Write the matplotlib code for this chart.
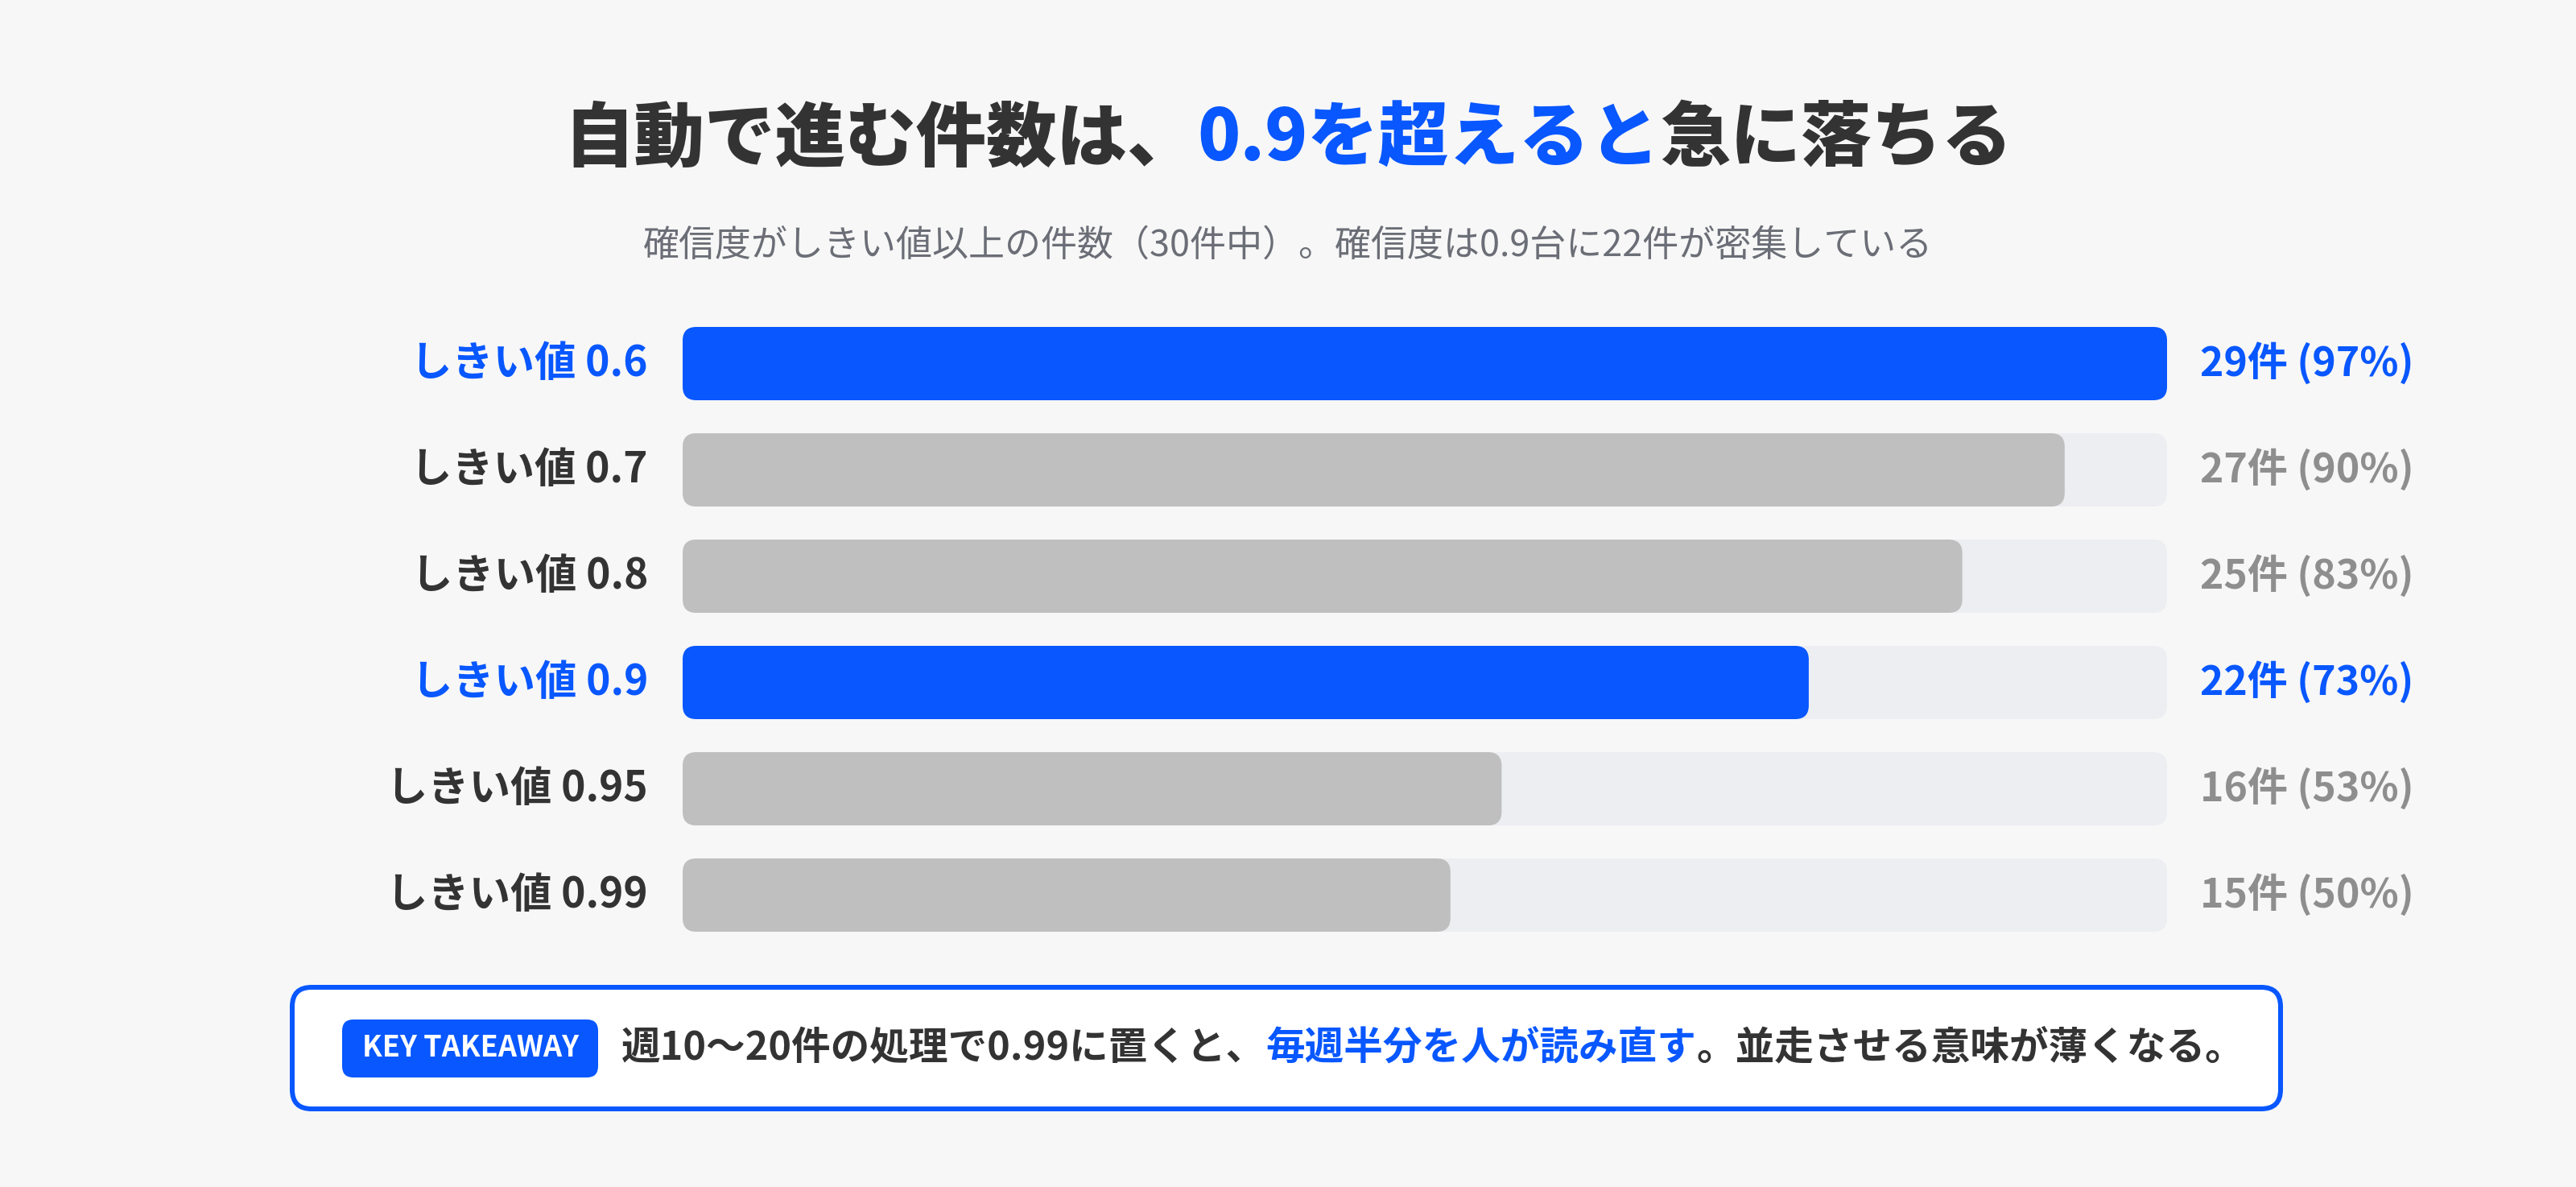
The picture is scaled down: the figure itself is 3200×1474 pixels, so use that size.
import matplotlib
matplotlib.use("Agg")
import matplotlib.pyplot as plt
from matplotlib.patches import FancyBboxPatch

plt.rcParams["font.family"] = ["Noto Sans CJK JP", "DejaVu Sans"]

# data
thresholds = ["0.6", "0.7", "0.8", "0.9", "0.95", "0.99"]
counts = [29, 27, 25, 22, 16, 15]
total_items = 30
highlight = [True, False, False, True, False, False]

title_runs = [("自動で進む件数は、", "dark"), ("0.9を超えると", "blue"), ("急に落ちる", "dark")]
subtitle = "確信度がしきい値以上の件数（30件中）。確信度は0.9台に22件が密集している"
takeaway_runs = [("週10〜20件の処理で0.99に置くと、", "dark"),
                 ("毎週半分を人が読み直す", "blue"),
                 ("。並走させる意味が薄くなる。", "dark")]

BLUE = "#0857FF"
DARK = "#333333"
GREY_BAR = "#BFBFBF"
TRACK = "#EDEEF2"
GREY_TXT = "#8E8E8E"
SUB_TXT = "#6B6E76"
BG = "#F7F7F7"
palette = {"blue": BLUE, "dark": DARK}

W, H, DPI = 3200, 1474, 200
fig = plt.figure(figsize=(W / DPI, H / DPI), dpi=DPI, facecolor=BG)

# overlay in pixel coordinates for titles and the takeaway box
ov = fig.add_axes([0, 0, 1, 1])
ov.set_xlim(0, W)
ov.set_ylim(H, 0)
ov.axis("off")
ov.set_facecolor(BG)

renderer = fig.canvas.get_renderer()


def draw_runs(runs, x, y, size, ha="left", weight="bold"):
    texts = []
    for s, c in runs:
        t = ov.text(0, y, s, color=palette[c], fontsize=size, fontweight=weight,
                    va="center", ha="left")
        texts.append(t)
    widths = [t.get_window_extent(renderer).width for t in texts]
    start = x - sum(widths) / 2 if ha == "center" else x
    for t, w in zip(texts, widths):
        t.set_x(start)
        start += w


draw_runs(title_runs, 1600, 173, 31.5, ha="center", weight="heavy")
ov.text(1600, 305, subtitle, color=SUB_TXT, fontsize=16.2, ha="center", va="center")

# bars
n = len(counts)
vmax = max(counts)
pitch = 132
top_px = 451.5 - pitch / 2
bot_px = top_px + pitch * n
left_px, right_px = 848, 2692
ax = fig.add_axes([left_px / W, 1 - bot_px / H, (right_px - left_px) / W, (bot_px - top_px) / H])
ax.set_xlim(0, vmax)
ax.set_ylim(n - 0.5, -0.5)
ax.axis("off")
ax.patch.set_alpha(0)

px_x = (right_px - left_px) / vmax
px_y = pitch
bar_h = 91 / pitch
radius_px = 17
rs = radius_px / px_x
aspect = px_x / px_y

for i, (lab, c, hl) in enumerate(zip(thresholds, counts, highlight)):
    track = FancyBboxPatch((0, i - bar_h / 2), vmax, bar_h,
                           boxstyle=f"round,pad=0,rounding_size={rs}",
                           mutation_aspect=aspect, fc=TRACK, ec="none")
    ax.add_patch(track)
    bar = FancyBboxPatch((0, i - bar_h / 2), c, bar_h,
                         boxstyle=f"round,pad=0,rounding_size={rs}",
                         mutation_aspect=aspect, fc=BLUE if hl else GREY_BAR, ec="none")
    ax.add_patch(bar)
    ax.annotate(f"しきい値 {lab}", xy=(0, i), xytext=(-43 * 72 / DPI, 0),
                textcoords="offset points", ha="right", va="center",
                fontsize=18.5, fontweight="bold", color=BLUE if hl else DARK)
    pct = round(c / total_items * 100)
    ax.annotate(f"{c}件 ({pct}%)", xy=(vmax, i), xytext=(41 * 72 / DPI, 0),
                textcoords="offset points", ha="left", va="center",
                fontsize=18, fontweight="bold", color=BLUE if hl else GREY_TXT)

# takeaway box
box = FancyBboxPatch((363, 1226), 2833 - 363, 1377 - 1226,
                     boxstyle="round,pad=0,rounding_size=24",
                     fc="white", ec=BLUE, lw=6 * 72 / DPI)
ov.add_patch(box)
badge = FancyBboxPatch((425, 1266), 743 - 425, 1338 - 1266,
                       boxstyle="round,pad=0,rounding_size=14",
                       fc=BLUE, ec="none")
ov.add_patch(badge)
ov.text(584, 1302, "KEY TAKEAWAY", color="white", fontsize=13, fontweight="bold",
        ha="center", va="center")
draw_runs(takeaway_runs, 772, 1302, 17.5)

fig.savefig("out.png", dpi=DPI, facecolor=BG)
